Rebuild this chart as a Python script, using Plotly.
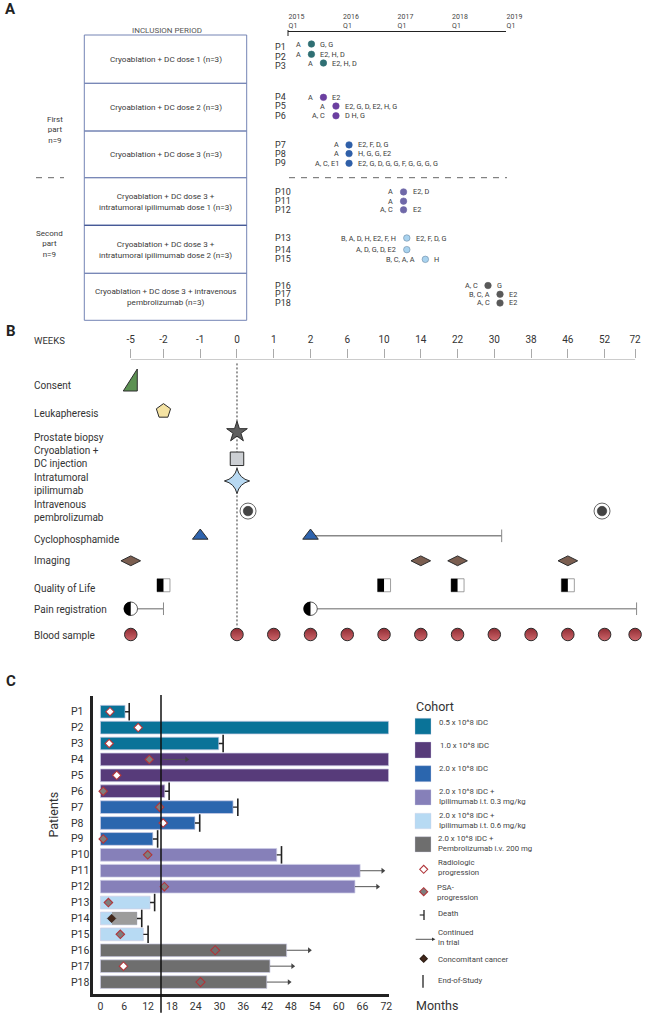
import plotly.graph_objects as go

W, H = 649, 1015
FONT = "Roboto"
INK = "#3a3a3a"

# ---------- data: panel A (enrolment timeline) ----------
PATIENTS = [f"P{i}" for i in range(1, 19)]
YEAR_TICKS = [2015, 2016, 2017, 2018, 2019]
YEAR_LABELS = ["2015<br>Q1", "2016<br>Q1", "2017<br>Q1", "2018<br>Q1", "2019<br>Q1"]
ENROLL_DATE = [2015.43, 2015.43, 2015.65, 2015.65, 2015.88, 2015.88, 2016.12, 2016.12, 2016.12,
               2017.12, 2017.12, 2017.12, 2017.18, 2017.18, 2017.52, 2018.67, 2018.89, 2018.89]
EVENTS_BEFORE = ["A", "A", "A", "A", "A", "A, C", "A", "A", "A, C, E1", "A", "A", "A, C",
                 "B, A, D, H, E2, F, H", "A, D, G, D, E2", "B, C, A, A", "A, C", "B, C, A", "A, C"]
EVENTS_AFTER = ["G, G", "E2, H, D", "E2, H, D", "E2", "E2, G, D, E2, H, G", "D H, G", "E2, F, D, G",
                "H, G, G, E2", "E2, G, D, G, G, F, G, G, G, G", "E2, D", "", "E2", "E2, F, D, G", "",
                "H", "G", "E2", "E2"]
ARMS = ["Cryoablation + DC dose 1 (n=3)", "Cryoablation + DC dose 2 (n=3)",
        "Cryoablation + DC dose 3 (n=3)",
        "Cryoablation + DC dose 3 +<br>intratumoral ipilimumab dose 1 (n=3)",
        "Cryoablation + DC dose 3 +<br>intratumoral ipilimumab dose 2 (n=3)",
        "Cryoablation + DC dose 3 + intravenous<br>pembrolizumab (n=3)"]

# ---------- data: panel B (schedule) ----------
WEEK_LABELS = ["-5", "-2", "-1", "0", "1", "2", "6", "10", "14", "22", "30", "38", "46", "52", "72"]
WEEK_SLOT = [-2.89, -2, -1, 0, 1, 2, 3, 4, 5, 6, 7, 8, 9, 10, 10.83]
CONSENT_AT = ["-5"]
LEUKA_AT = ["-2"]
BIOPSY_AT = ["0"]
CRYO_AT = ["0"]
IPI_AT = ["0"]
PEMBRO_SLOTS = [0.3, 9.93]
CYCLO_AT = ["-1", "2"]
CYCLO_UNTIL_SLOT = 7.2
IMAGING_AT = ["-5", "14", "22", "46"]
QOL_AT = ["-2", "10", "22", "46"]
PAIN_SPANS = [("-5", -2.0), ("2", 10.87)]
BLOOD_AT = ["-5", "0", "1", "2", "6", "10", "14", "22", "30", "38", "46", "52", "72"]
SCHEDULE_ROWS = ["Consent", "Leukapheresis", "Prostate biopsy", "Cryoablation +<br>DC injection",
                 "Intratumoral<br>ipilimumab", "Intravenous<br>pembrolizumab", "Cyclophosphamide",
                 "Imaging", "Quality of Life", "Pain registration", "Blood sample"]

# ---------- data: panel C (months on trial) ----------
MONTH_TICKS = [0, 6, 12, 18, 24, 30, 36, 42, 48, 54, 60, 66, 72]
DURATION = [6.2, 72.6, 29.8, 72.6, 72.6, 16.2, 33.4, 23.8, 13.2, 44.4, 65.4, 64.1, 12.5, 9.2, 10.8, 46.9, 42.7, 41.9]
COHORT_NAMES = ["0.5 x 10^8 iDC", "1.0 x 10^8 iDC", "2.0 x 10^8 iDC",
                "2.0 x 10^8 iDC +<br>Ipilimumab i.t. 0.3 mg/kg",
                "2.0 x 10^8 iDC +<br>Ipilimumab i.t. 0.6 mg/kg",
                "2.0 x 10^8 iDC +<br>Pembrolizumab i.v. 200 mg"]
COHORT_COLORS = ["#0A7398", "#573B7A", "#2B66AE", "#8680B9", "#B7DAF3", "#6E6E6E"]
DOT_COLORS = ["#2F6F73", "#6B3FA0", "#2F5FA8", "#6F68A8", "#A9D3EF", "#595959"]
RADIOLOGIC = {"P1": 2.4, "P2": 9.5, "P3": 2.2, "P5": 4.1, "P8": 15.8, "P17": 5.8}
RADIOLOGIC_OPEN = {"P16": 28.9, "P18": 25.2}
PSA = {"P4": 12.3, "P6": 0.7, "P7": 14.9, "P9": 0.7, "P10": 11.9, "P12": 16.1, "P13": 2.0, "P15": 5.0}
CANCER = {"P14": 2.8}
CANCER_BAR_FROM = 2.9
DEATH = {"P1": 7.25, "P3": 30.9, "P6": 17.3, "P7": 34.6, "P8": 25.0, "P9": 14.4,
         "P10": 45.6, "P13": 13.65, "P14": 10.4, "P15": 12.0}
CONTINUED = {"P4": (15.7, 21.7), "P11": (65.4, 71.1), "P12": (64.1, 69.8),
             "P16": (46.9, 52.6), "P17": (42.7, 48.4), "P18": (41.9, 47.5)}
END_OF_STUDY = 15.25

# ---------- layout helpers ----------
def px(x): return x / W
def py(y): return 1 - y / H

annotations, shapes, traces = [], [], []

def note(x, y, text, size=8, color=INK, anchor="left", xref="paper", yref="paper", **kw):
    annotations.append(dict(x=x, y=y, text=text, xref=xref, yref=yref, showarrow=False,
                            xanchor=anchor, yanchor="middle", align=anchor,
                            borderpad=0, font=dict(family=FONT, size=size, color=color), **kw))

def label(x, y, text, size=8, color=INK, anchor="left", **kw):
    note(px(x), py(y), text, size, color, anchor, **kw)

def scatter(axes, x, y, **kw):
    kw.setdefault("hoverinfo", "skip")
    traces.append(go.Scatter(x=x, y=y, xaxis="x" + axes, yaxis="y" + axes, showlegend=False,
                             cliponaxis=False, **kw))

# row layout in row units
A_ROW = [0, 1.06, 1.96, 5.5, 6.4, 7.4, 10.4, 11.3, 12.3, 15.25, 16.2, 17.1, 20, 21.2, 22.2, 24.9, 25.8, 26.7]
A_LABEL_SHIFT = [3, 2.5, 3] + [0] * 7 + [-0.5, 0.5] + [0] * 4 + [-0.5, 0.5]
A_TOP, A_BOT, A_UNIT, A_ZERO = 32.3, 312, 9.7, 44
B_ROW = [0, 1.22, 2.04, 3.09, 3.96, 5.14, 6.11, 7.09, 8.05, 8.97, 9.98]
B_LABEL_SHIFT = [5.7, 2, 5.7, -1.7, 3, 0, 3.3, 0, 3.4, 1, 1.4]
B_TOP, B_BOT, B_UNIT, B_ZERO = 359.3, 650, 25.5, 380
B_X_SLOT0, B_SLOT_PX = 237.0, 36.76
B_RANGE = [-3.4, 11.14]
C_X0, C_X1, C_TOP, C_BOT = 93.3, 388.7, 695.8, 994
week_pos = dict(zip(WEEK_LABELS, WEEK_SLOT))
cohort_index = [i // 3 for i in range(18)]

# ---------- panel A ----------
box_lines = [35, 83.3, 131, 177.7, 225.3, 273.3, 320.3]
for t, b, arm in zip(box_lines[:-1], box_lines[1:], ARMS):
    shapes.append(dict(type="rect", xref="paper", yref="paper", x0=px(84.3), x1=px(246.7), y0=py(b), y1=py(t),
                       line=dict(color="#7484B4", width=1)))
    label(165.5, (t + b) / 2, arm, 8.1, INK, "center")
shapes.append(dict(type="line", xref="paper", yref="paper", x0=px(84.3), x1=px(246.7), y0=py(225.3), y1=py(225.3),
                   line=dict(color="#3B4F8F", width=1)))
label(166.5, 30.5, "INCLUSION PERIOD", 8, "#555", "center")
label(54.5, 129.5, "First<br>part<br>n=9", 8, INK, "center")
label(49.6, 244, "Second<br>part<br>n=9", 8, INK, "center")
for x0, x1 in [(36, 64), (289, 507)]:
    shapes.append(dict(type="line", xref="paper", yref="paper", x0=px(x0), x1=px(x1), y0=py(177.7), y1=py(177.7),
                       line=dict(color="#666", width=1, dash="6px,6px")))
shapes.append(dict(type="line", xref="paper", yref="paper", x0=px(288), x1=px(288), y0=py(30), y1=py(36),
                   line=dict(color="#222", width=1)))
for c in range(6):
    idx = [i for i in range(18) if cohort_index[i] == c]
    scatter("", [ENROLL_DATE[i] for i in idx], [A_ROW[i] for i in idx], mode="markers",
            marker=dict(size=6.5, color=DOT_COLORS[c],
                        line=dict(color="#6b8aa5" if c == 4 else DOT_COLORS[c], width=0.6)))
for i, p in enumerate(PATIENTS):
    note(px(274), A_ROW[i], p, 9, "#333", yref="y", yshift=-A_LABEL_SHIFT[i])
    note(ENROLL_DATE[i], A_ROW[i], EVENTS_BEFORE[i], 7.3, INK, "right", xref="x", yref="y", xshift=-9.5)
    if EVENTS_AFTER[i]:
        note(ENROLL_DATE[i], A_ROW[i], EVENTS_AFTER[i], 7.3, INK, "left", xref="x", yref="y", xshift=8)

# ---------- panel B ----------
label(33, 340, "WEEKS", 9.5, "#333")
for row, shift, name in zip(B_ROW, B_LABEL_SHIFT, SCHEDULE_ROWS):
    note(px(33), row, name, 10, "#333", yref="y2", yshift=-shift)

scatter("2", [WEEK_SLOT[0], WEEK_SLOT[-1]], [(B_TOP - B_ZERO) / B_UNIT] * 2, mode="lines",
        line=dict(color="#AAA", width=1))
scatter("2", [0, 0], [-0.65, 9.7], mode="lines", line=dict(color="#333", width=1, dash="2px,2px"))

def at(labels): return [week_pos[w] for w in labels]
dark = dict(color="#2c2c2c", width=1)
for s in at(CONSENT_AT):
    shapes.append(dict(type="path", xref="x2", yref="y2", xsizemode="pixel", ysizemode="pixel",
                       xanchor=s, yanchor=B_ROW[0], path="M -7.5 -11 L 6.5 -11 L 6.5 11 Z",
                       fillcolor="#5C9152", line=dark))
scatter("2", at(LEUKA_AT), [B_ROW[1]], mode="markers",
        marker=dict(symbol="pentagon", size=15, color="#F5E3A3", line=dark))
scatter("2", at(BIOPSY_AT), [B_ROW[2]], mode="markers",
        marker=dict(symbol="star", size=15.5, color="#5F5F5F", line=dark))
scatter("2", at(CRYO_AT), [B_ROW[3]], mode="markers",
        marker=dict(symbol="square", size=13.5, color="#CCCFD3", line=dark))
scatter("2", at(IPI_AT), [B_ROW[4]], mode="markers",
        marker=dict(symbol="star-diamond", size=18, color="#B8D9F2", line=dark))
scatter("2", PEMBRO_SLOTS, [B_ROW[5]] * 2, mode="markers",
        marker=dict(symbol="circle", size=16, color="white", line=dict(color="#666", width=1)))
scatter("2", PEMBRO_SLOTS, [B_ROW[5]] * 2, mode="markers",
        marker=dict(symbol="circle", size=9.5, color="#444", line=dict(color="#222", width=0.5)))
# cyclophosphamide span
scatter("2", [week_pos["2"], CYCLO_UNTIL_SLOT], [B_ROW[6]] * 2, mode="lines", line=dict(color="#888", width=1.4))
scatter("2", [CYCLO_UNTIL_SLOT], [B_ROW[6]], mode="markers",
        marker=dict(symbol="line-ns", size=9, line=dict(color="#888", width=1)))
scatter("2", at(CYCLO_AT), [B_ROW[6]] * 2, mode="markers",
        marker=dict(symbol="triangle-up", size=13.5, color="#2F64AE", line=dark))
scatter("2", at(IMAGING_AT), [B_ROW[7]] * 4, mode="markers",
        marker=dict(symbol="diamond-wide", size=14, color="#7B5E50", line=dark))
scatter("2", at(QOL_AT), [B_ROW[8]] * 4, mode="markers",
        marker=dict(symbol="square", size=13, color="white", line=dict(color="#888", width=0.8)))
for s in at(QOL_AT):
    shapes.append(dict(type="path", xref="x2", yref="y2", xsizemode="pixel", ysizemode="pixel",
                       xanchor=s, yanchor=B_ROW[8], path="M -6.5 -6.5 H 0 V 6.5 H -6.5 Z",
                       fillcolor="black", line=dict(width=0)))
for start, end in PAIN_SPANS:
    s = week_pos[start]
    scatter("2", [s, end], [B_ROW[9]] * 2, mode="lines", line=dict(color="#999", width=1.5))
    scatter("2", [end], [B_ROW[9]], mode="markers",
            marker=dict(symbol="line-ns", size=9, line=dict(color="#888", width=1)))
    scatter("2", [s], [B_ROW[9]], mode="markers",
            marker=dict(symbol="circle", size=13.5, color="white", line=dict(color="#333", width=0.8)))
    shapes.append(dict(type="path", xref="x2", yref="y2", xsizemode="pixel", ysizemode="pixel",
                       xanchor=s, yanchor=B_ROW[9],
                       path="M 0 -7 C -3.9 -7 -7 -3.9 -7 0 C -7 3.9 -3.9 7 0 7 Z",
                       fillcolor="black", line=dict(width=0)))
scatter("2", at(BLOOD_AT), [B_ROW[10]] * len(BLOOD_AT), mode="markers",
        marker=dict(symbol="circle", size=12.5, color="#8F2C33",
                    gradient=dict(type="vertical", color="#CF666B"), line=dict(color="#2c2c2c", width=1)))

# ---------- panel C ----------
for c in range(6):
    idx = [i for i in range(18) if cohort_index[i] == c]
    traces.append(go.Bar(y=[PATIENTS[i] for i in idx], x=[DURATION[i] for i in idx], orientation="h",
                         xaxis="x3", yaxis="y3", width=0.8, showlegend=False, hoverinfo="skip",
                         marker=dict(color=COHORT_COLORS[c], line=dict(color="rgba(205,205,230,0.9)", width=0.8))))
traces.append(go.Bar(y=["P14"], x=[DURATION[13] - CANCER_BAR_FROM], base=[CANCER_BAR_FROM], orientation="h",
                     xaxis="x3", yaxis="y3", width=0.8, showlegend=False, hoverinfo="skip",
                     marker=dict(color="#9C9C9C", line=dict(width=0))))
ends = {p: d for p, d in zip(PATIENTS, DURATION)}
sx, sy = [], []
for p, d in DEATH.items():
    sx += [ends[p], d, None]; sy += [p, p, None]
scatter("3", sx, sy, mode="lines", line=dict(color="#222", width=1.4))
scatter("3", list(DEATH.values()), list(DEATH.keys()), mode="markers",
        marker=dict(symbol="line-ns", size=12.5, line=dict(color="#222", width=1.6)))
ax, ay = [], []
for p, (a, b) in CONTINUED.items():
    ax += [a, b, None]; ay += [p, p, None]
scatter("3", ax, ay, mode="lines", line=dict(color="#555", width=1))
scatter("3", [v[1] for v in CONTINUED.values()], list(CONTINUED.keys()), mode="markers",
        marker=dict(symbol="triangle-right", size=5, color="#444"))
RED = "#B0353A"
scatter("3", list(RADIOLOGIC.values()), list(RADIOLOGIC.keys()), mode="markers",
        marker=dict(symbol="diamond", size=6.5, color="white", line=dict(color=RED, width=1.1)))
scatter("3", list(RADIOLOGIC_OPEN.values()), list(RADIOLOGIC_OPEN.keys()), mode="markers",
        marker=dict(symbol="diamond-open", size=7, color=RED, line=dict(color=RED, width=1.1)))
scatter("3", list(PSA.values()), list(PSA.keys()), mode="markers",
        marker=dict(symbol="diamond", size=6.5, color="#7E7E7E", line=dict(color=RED, width=1.1)))
scatter("3", list(CANCER.values()), list(CANCER.keys()), mode="markers",
        marker=dict(symbol="diamond", size=6.5, color="#43281C", line=dict(color="#2a1a10", width=0.6)))
shapes.append(dict(type="line", xref="x3", yref="paper", x0=END_OF_STUDY, x1=END_OF_STUDY,
                   y0=py(695), y1=py(1012.7), line=dict(color="#111", width=1.5)))
for p in PATIENTS:
    note(px(70), p, p, 10.5, "#333", yref="y3")
annotations.append(dict(x=px(43), y=py(840), xref="paper", yref="paper", text="Patients", textangle=-90,
                        showarrow=False, font=dict(family=FONT, size=12.5, color="#333")))

# legend of panel C
label(415, 706.7, "Cohort", 12.5, "#333")
label(415, 1005, "Months", 12.5, "#333")
swatch_top = [718.3, 742, 765.7, 789.7, 813.3, 836.7]
swatch_h = [16, 16, 16, 15.3, 15.4, 15.3]
txt_y = [722.7, 745, 768.3, 796.7, 820, 843.5]
txt_x = [438.3, 439, 438.3, 438, 438.3, 437]
for t, h, c, name, ty, tx in zip(swatch_top, swatch_h, COHORT_COLORS, COHORT_NAMES, txt_y, txt_x):
    shapes.append(dict(type="rect", xref="paper", yref="paper", x0=px(415), x1=px(431), y0=py(t + h), y1=py(t),
                       fillcolor=c, line=dict(color="rgba(205,205,230,0.7)", width=0.5)))
    label(tx, ty, name, 7.8, "#444")

def diamond(cx, cy, r, fill, edge):
    shapes.append(dict(type="path", xref="paper", yref="paper",
                       path=f"M {px(cx - r)} {py(cy)} L {px(cx)} {py(cy - r)} L {px(cx + r)} {py(cy)} L {px(cx)} {py(cy + r)} Z",
                       fillcolor=fill, line=dict(color=edge, width=1.1)))
diamond(423.7, 869.3, 4, "white", RED)
label(437.3, 867.6, "Radiologic<br>progression", 7.8, "#444")
diamond(423.7, 891.7, 4, "#7E7E7E", RED)
label(435.7, 892.6, "PSA-<br>progression", 7.8, "#444")
shapes.append(dict(type="line", xref="paper", yref="paper", x0=px(424), x1=px(424), y0=py(910), y1=py(920),
                   line=dict(color="#222", width=1.3)))
shapes.append(dict(type="line", xref="paper", yref="paper", x0=px(419.7), x1=px(424), y0=py(915), y1=py(915),
                   line=dict(color="#222", width=1.1)))
label(437.3, 913.3, "Death", 7.8, "#444")
shapes.append(dict(type="line", xref="paper", yref="paper", x0=px(415.7), x1=px(433), y0=py(939.3), y1=py(939.3),
                   line=dict(color="#444", width=0.9)))
shapes.append(dict(type="path", xref="paper", yref="paper",
                   path=f"M {px(432)} {py(937.6)} L {px(435.4)} {py(939.3)} L {px(432)} {py(941)} Z",
                   fillcolor="#333", line=dict(width=0)))
label(437.3, 937.6, "Continued<br>in trial", 7.8, "#444")
diamond(423.7, 958.7, 3.6, "#43281C", "#2a1a10")
label(437.3, 959.3, "Concomitant cancer", 7.8, "#444")
shapes.append(dict(type="line", xref="paper", yref="paper", x0=px(423), x1=px(423), y0=py(975), y1=py(987.7),
                   line=dict(color="#222", width=1.3)))
label(436.7, 980.7, "End-of-Study", 7.8, "#444")

for t, x, y in [("A", 6, 9), ("B", 7, 331), ("C", 7, 681)]:
    label(x - 2, y, f"<b>{t}</b>", 15, "#222")

fig = go.Figure(traces)
fig.update_layout(
    template="none",
    width=W, height=H, margin=dict(l=0, r=0, t=0, b=0, pad=0, autoexpand=False), autosize=False,
    paper_bgcolor="white", plot_bgcolor="white",
    barmode="overlay", showlegend=False, annotations=annotations, shapes=shapes,
    font=dict(family=FONT, color=INK),
    xaxis=dict(domain=[px(288), px(506)], range=[2015, 2019], anchor="y", side="top", tickmode="array",
               tickvals=YEAR_TICKS, ticktext=YEAR_LABELS, ticks="", ticklabelposition="outside right",
               tickfont=dict(family=FONT, size=7, color="#444"), showgrid=False, zeroline=False,
               showline=True, linecolor="#222", linewidth=1.2, automargin=False),
    yaxis=dict(domain=[py(A_BOT), py(A_TOP)], anchor="x", automargin=False,
               range=[(A_BOT - A_ZERO) / A_UNIT, (A_TOP - A_ZERO) / A_UNIT], visible=False),
    xaxis2=dict(domain=[px(B_X_SLOT0 + B_RANGE[0] * B_SLOT_PX), px(B_X_SLOT0 + B_RANGE[1] * B_SLOT_PX)],
                range=B_RANGE, anchor="y2", side="top", automargin=False,
                tickmode="array", tickvals=WEEK_SLOT, ticktext=WEEK_LABELS, ticks="outside", ticklen=9,
                tickcolor="#AAA", tickwidth=1, tickfont=dict(family=FONT, size=10, color="#333"),
                ticklabelstandoff=2, showgrid=False, zeroline=False, showline=False),
    yaxis2=dict(domain=[py(B_BOT), py(B_TOP)], anchor="x2", automargin=False,
                range=[(B_BOT - B_ZERO) / B_UNIT, (B_TOP - B_ZERO) / B_UNIT], visible=False),
    xaxis3=dict(domain=[px(C_X0), px(C_X1)], range=[-1.8, 72.6], anchor="y3", tickmode="array", automargin=False,
                tickvals=MONTH_TICKS, ticks="", tickfont=dict(family=FONT, size=10.5, color="#333"),
                showgrid=False, zeroline=False, showline=True, linecolor="#222", linewidth=3),
    yaxis3=dict(domain=[py(C_BOT), py(C_TOP)], anchor="x3", type="category", categoryorder="array",
                categoryarray=PATIENTS, range=[17.75, -1], showticklabels=False, ticks="", automargin=False,
                showgrid=False, zeroline=False, showline=True, linecolor="#222", linewidth=3),
)
fig.write_html("out.html", config={"displayModeBar": False},
               post_script="document.body.style.margin='0';document.body.style.overflow='hidden';")
